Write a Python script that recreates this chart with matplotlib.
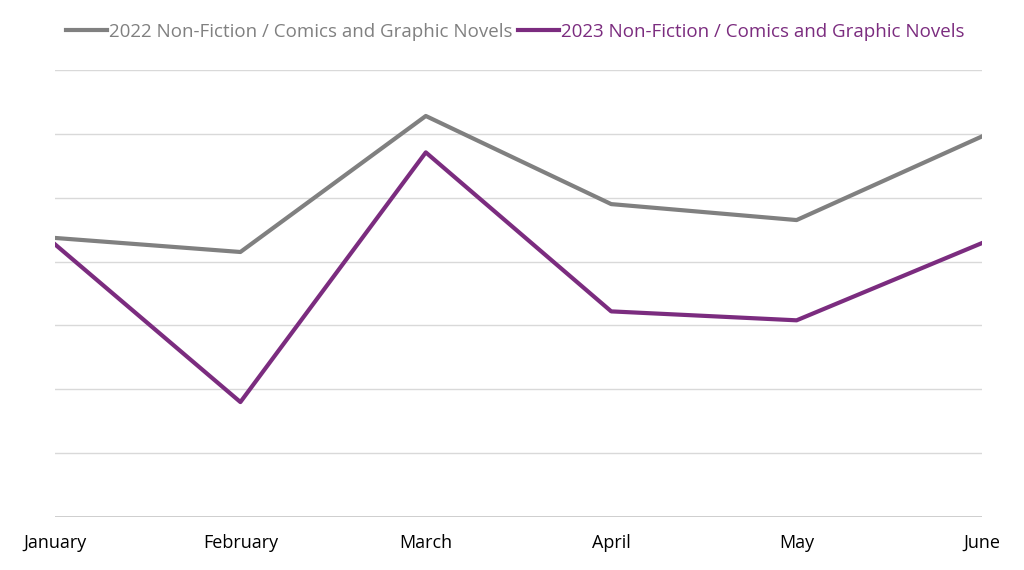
import matplotlib
matplotlib.use("Agg")
import matplotlib.pyplot as plt

months = ["January", "February", "March", "April", "May", "June"]
series_2022 = [4.37, 4.15, 6.28, 4.90, 4.65, 5.96]
series_2023 = [4.27, 1.80, 5.71, 3.22, 3.08, 4.29]
labels = ["2022 Non-Fiction / Comics and Graphic Novels", "2023 Non-Fiction / Comics and Graphic Novels"]
colors = ["#808080", "#7B2C7F"]

plt.rcParams['font.family'] = ['Open Sans', 'DejaVu Sans']
fig = plt.figure(figsize=(10.24, 5.70), dpi=100)
ax = fig.add_axes([55/1024, 1-517/570, (982-55)/1024, (517-70)/570])
x = list(range(len(months)))
ax.plot(x, series_2022, color=colors[0], lw=3, label=labels[0])
ax.plot(x, series_2023, color=colors[1], lw=3, label=labels[1])
ax.set_xlim(0, 5)
ax.set_ylim(0, 7)
ax.set_yticks(range(8))
ax.set_yticklabels([])
ax.tick_params(axis='y', length=0)
ax.tick_params(axis='x', length=0, labelsize=13, pad=12)
ax.set_xticks(x)
ax.set_xticklabels(months)
ax.grid(axis='y', color='#D9D9D9', lw=1)
for s in ax.spines.values():
    s.set_visible(False)
ax.axhline(0, color='#C8C8C8', lw=1.2)
leg = fig.legend(loc='upper center', bbox_to_anchor=(0.503, 0.99), ncol=2, frameon=False,
                 fontsize=13.5, handlelength=2.2, columnspacing=0.3, handletextpad=0.1)
for t, c in zip(leg.get_texts(), colors):
    t.set_color(c)
fig.savefig("out.png", dpi=100)
